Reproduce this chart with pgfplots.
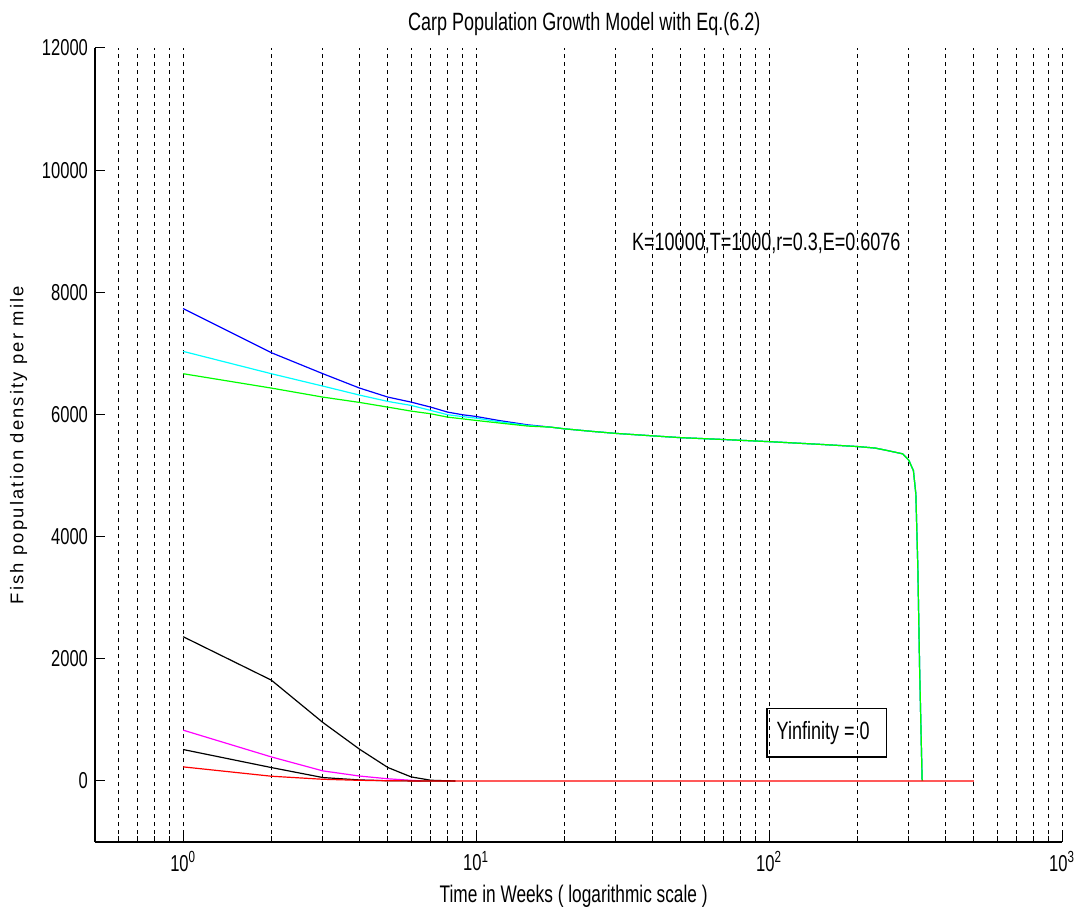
\documentclass[border=0pt]{standalone}
\usepackage{pgfplots}
\pgfplotsset{compat=1.18}
\usepackage{fontspec}
\setmainfont{Liberation Sans}[FakeStretch=0.72]
\newfontfamily\ylfont{Liberation Sans}[LetterSpace=12]
\definecolor{mcyan}{RGB}{0,255,255}
\definecolor{mgreen}{RGB}{0,255,0}
\definecolor{mmag}{RGB}{255,0,255}
\definecolor{mblue}{RGB}{0,0,255}
\definecolor{mred}{RGB}{255,0,0}
\begin{document}
\begin{tikzpicture}
\begin{semilogxaxis}[
  scale only axis, width=483.5pt, height=397pt,
  xmin=0.5, xmax=1000, ymin=-1000, ymax=12000,
  axis x line*=bottom, axis y line*=left,
  axis line style={-, line width=0.6pt, black},
  scaled y ticks=false,
  ytick={0,2000,4000,6000,8000,10000,12000},
  xtick={1,10,100,1000},
  minor xtick={0.6,0.7,0.8,0.9,2,3,4,5,6,7,8,9,20,30,40,50,60,70,80,90,200,300,400,500,600,700,800,900},
  xticklabels={10\textsuperscript{0},10\textsuperscript{1},10\textsuperscript{2},10\textsuperscript{3}},
  /pgf/number format/.cd, 1000 sep={}, assume math mode=true, /pgfplots/.cd,
  ticklabel style={font=\fontsize{11.5}{13}\selectfont},
  xticklabel style={yshift=-1pt},
  xmajorgrids, xminorgrids,
  major grid style={dash pattern=on 2pt off 2pt, black, line width=0.5pt},
  minor grid style={dash pattern=on 2pt off 2pt, black, line width=0.5pt},
  tick align=inside, major tick length=5pt, minor tick length=3pt,
  tick style={black, line width=0.5pt},
  title={Carp Population Growth Model with Eq.(6.2)},
  title style={at={(axis description cs:0.506,1.033)}, anchor=center, yshift=-7pt, font=\fontsize{12.5}{14}\selectfont},
  xlabel={Time in Weeks ( logarithmic scale )},
  xlabel style={at={(axis description cs:0.495,-0.069)}, anchor=center, yshift=0pt, font=\fontsize{12}{14}\selectfont},
  ylabel={Fish population density per mile},
  ylabel style={at={(axis description cs:-0.0791,0.5)}, anchor=center, rotate=0, font=\ylfont\fontsize{9.2}{11}\selectfont},
  every axis plot/.append style={line width=0.6pt},
  clip=false,
]
\coordinate (bl) at (rel axis cs:0,0);
\coordinate (tr) at (rel axis cs:1,1);
% blue
\addplot[mblue] coordinates {(1,7733)(2,7011)(3,6667)(4,6432)(5,6284)(6,6202)(7,6120)(8,6038)(9,5995)(10,5967)(12,5900)(15,5830)(18,5792)(20,5765)(25,5722)(30,5690)(40,5650)(50,5620)(70,5590)(100,5555)(150,5510)(200,5475)(230,5450)(253,5410)(286,5355)(300,5250)(311,5080)(317,4700)(322,3500)(326.5,1860)(333,30)(334,0)};
% cyan
\addplot[mcyan] coordinates {(1,7033)(2,6667)(3,6464)(4,6317)(5,6213)(6,6148)(7,6066)(8,5995)(9,5965)(10,5940)(12,5880)(15,5820)(18,5792)(20,5765)(25,5722)(30,5690)(40,5650)(50,5620)(70,5590)(100,5555)(150,5510)(200,5475)(230,5450)(253,5410)(286,5355)(300,5250)(311,5080)(317,4700)(322,3500)(326.5,1860)(333,30)(334,0)};
% green
\addplot[mgreen] coordinates {(1,6667)(2,6432)(3,6284)(4,6197)(5,6120)(6,6055)(7,6011)(8,5956)(9,5928)(10,5902)(12,5860)(15,5810)(18,5792)(20,5765)(25,5722)(30,5690)(40,5650)(50,5620)(70,5590)(100,5555)(150,5510)(200,5475)(230,5450)(253,5410)(286,5355)(300,5250)(311,5080)(317,4700)(322,3500)(326.5,1860)(333,30)(334,0)};
% black upper
\addplot[black] coordinates {(1,2361)(2,1650)(3,956)(4,519)(5,219)(6,66)(7,11)(8,2)(8.5,0)};
% magenta
\addplot[mmag] coordinates {(1,831)(2,393)(3,164)(4,80)(5,35)(6,10)(6.5,0)};
% black lower
\addplot[black] coordinates {(1,514)(2,219)(3,55)(4,16)(5,3)(6,0)(8.5,0)};
% red
\addplot[mred] coordinates {(1,230)(2,77)(3,27)(4,10)(5,3)(6,0)(500,0)};
\node[anchor=west, font=\fontsize{12.5}{14}\selectfont, inner sep=0pt] at (axis cs:34,8800) {K=10000,T=1000,r=0.3,E=0.6076};
\draw[black, line width=0.6pt] (axis cs:98.4,393) rectangle (axis cs:251,1180);
\node[font=\fontsize{12.5}{14}\selectfont] at (axis cs:153,787) {Yinfinity = 0};
\end{semilogxaxis}
\pgfresetboundingbox
\path ([shift={(-47.5pt,-37pt)}]bl) rectangle ([shift={(6.5pt,24pt)}]tr);
\end{tikzpicture}
\end{document}
